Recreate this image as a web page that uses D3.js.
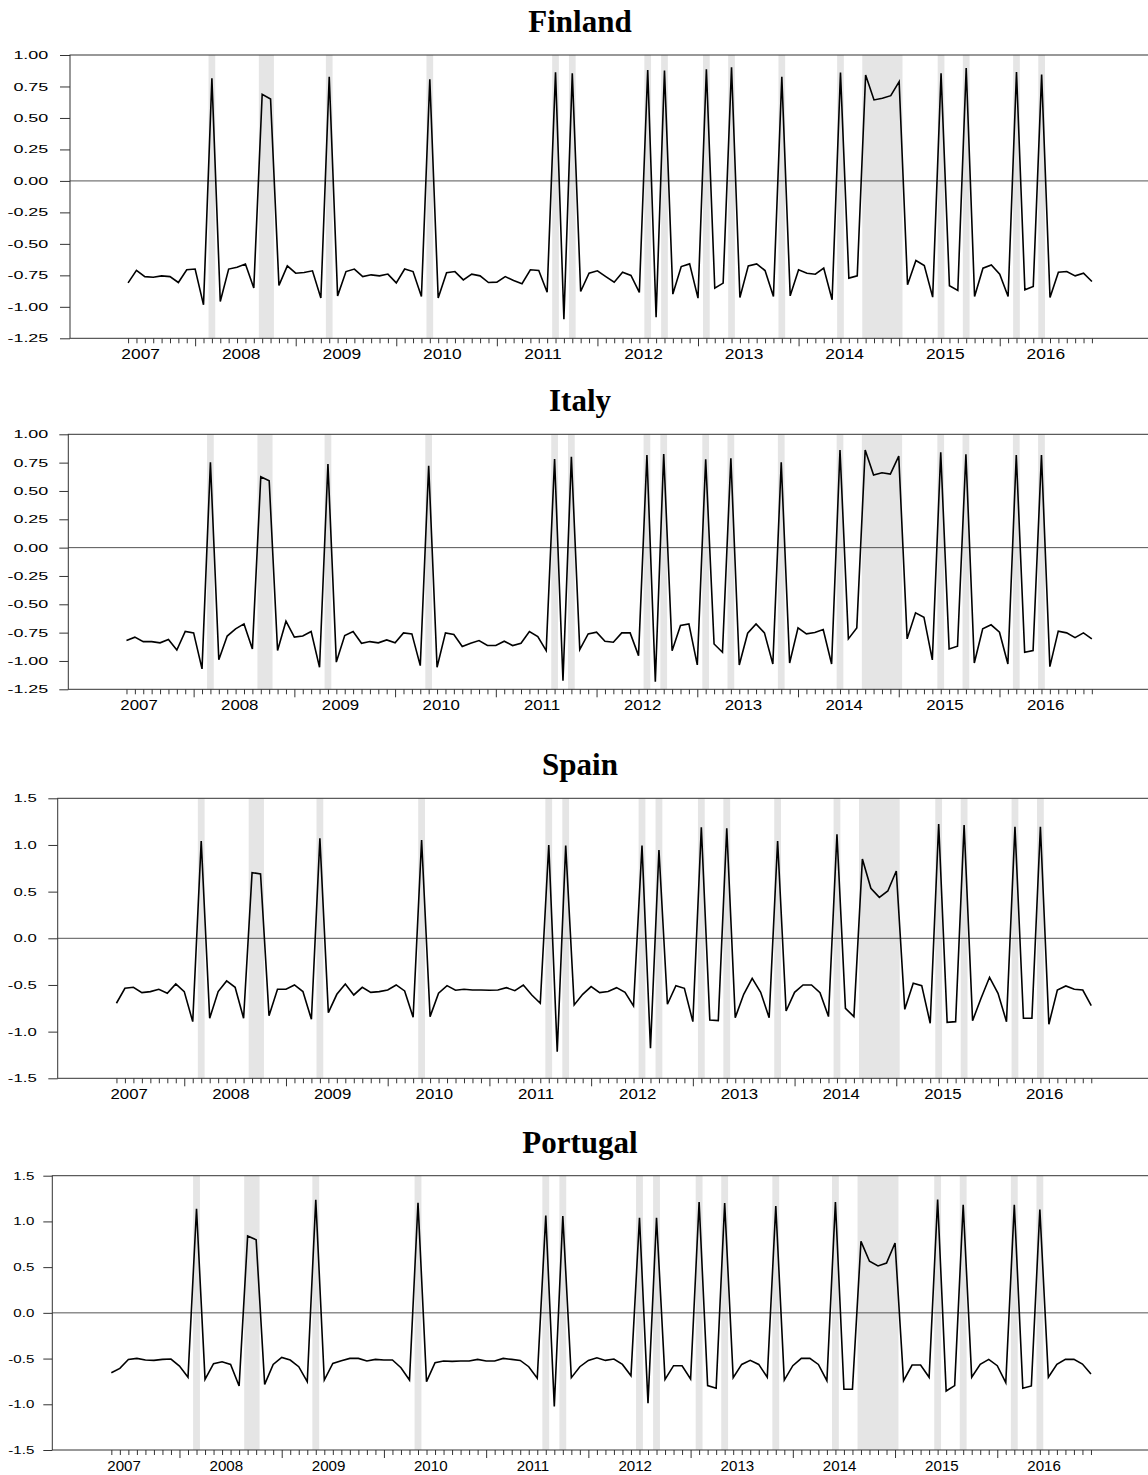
<!DOCTYPE html>
<html>
<head>
<meta charset="utf-8">
<script src="https://cdn.jsdelivr.net/npm/d3@7"></script>
<style>
  body { margin: 0; background: #fff; }
</style>
</head>
<body>
<svg id="chart"></svg>
<script>
// monthly observations, 2007M05 .. 2016M12
var firstYear = 2007, firstMonth = 5;
var yearLabels = [2007, 2008, 2009, 2010, 2011, 2012, 2013, 2014, 2015, 2016];

// shaded months (regime periods), start / end observation
var shadeSpans = [
  ['2008-03', '2008-03'], ['2008-09', '2008-10'], ['2009-05', '2009-05'],
  ['2010-05', '2010-05'], ['2011-08', '2011-08'], ['2011-10', '2011-10'],
  ['2012-07', '2012-07'], ['2012-09', '2012-09'], ['2013-02', '2013-02'],
  ['2013-05', '2013-05'], ['2013-11', '2013-11'], ['2014-06', '2014-06'],
  ['2014-09', '2015-01'], ['2015-06', '2015-06'], ['2015-09', '2015-09'],
  ['2016-03', '2016-03'], ['2016-06', '2016-06']
];

var ticksNarrow = [-1.25, -1.00, -0.75, -0.50, -0.25, 0, 0.25, 0.50, 0.75, 1.00];
var ticksWide = [-1.5, -1.0, -0.5, 0, 0.5, 1.0, 1.5];

var finland = [
  -0.81, -0.71, -0.76, -0.765, -0.754, -0.76, -0.807, -0.706, -0.70, -0.984,
  0.815, -0.958, -0.70, -0.685, -0.66, -0.85, 0.688, 0.65, -0.83, -0.675,
  -0.733, -0.728, -0.714, -0.93, 0.828, -0.913, -0.72, -0.70, -0.76, -0.746,
  -0.754, -0.74, -0.81, -0.70, -0.72, -0.918, 0.807, -0.93, -0.73, -0.72,
  -0.786, -0.741, -0.754, -0.807, -0.804, -0.76, -0.791, -0.817, -0.706, -0.712,
  -0.884, 0.862, -1.098, 0.854, -0.878, -0.733, -0.714, -0.76, -0.804, -0.725,
  -0.751, -0.886, 0.881, -1.082, 0.876, -0.899, -0.68, -0.659, -0.931, 0.886,
  -0.852, -0.812, 0.902, -0.926, -0.675, -0.659, -0.712, -0.918, 0.828, -0.913,
  -0.706, -0.733, -0.741, -0.693, -0.944, 0.86, -0.772, -0.754, 0.841, 0.643,
  0.656, 0.677, 0.788, -0.825, -0.632, -0.672, -0.923, 0.854, -0.833, -0.870,
  0.897, -0.918, -0.693, -0.667, -0.741, -0.918, 0.865, -0.865, -0.839, 0.844,
  -0.926, -0.725, -0.72, -0.754, -0.733, -0.799
];

var italy = [
  -0.82, -0.79, -0.829, -0.829, -0.84, -0.81, -0.903, -0.74, -0.752, -1.07,
  0.752, -0.99, -0.78, -0.717, -0.673, -0.894, 0.625, 0.59, -0.908, -0.649,
  -0.79, -0.78, -0.74, -1.056, 0.737, -1.01, -0.776, -0.74, -0.844, -0.829,
  -0.84, -0.814, -0.84, -0.752, -0.761, -1.041, 0.723, -1.056, -0.752, -0.767,
  -0.873, -0.844, -0.82, -0.864, -0.864, -0.826, -0.864, -0.844, -0.74, -0.785,
  -0.909, 0.782, -1.174, 0.802, -0.90, -0.761, -0.746, -0.826, -0.835, -0.752,
  -0.752, -0.953, 0.817, -1.183, 0.826, -0.909, -0.687, -0.673, -1.035, 0.779,
  -0.85, -0.923, 0.788, -1.035, -0.755, -0.673, -0.752, -1.027, 0.752, -1.018,
  -0.708, -0.761, -0.749, -0.723, -1.027, 0.861, -0.805, -0.708, 0.861, 0.64,
  0.661, 0.649, 0.808, -0.805, -0.575, -0.614, -0.991, 0.841, -0.894, -0.87,
  0.823, -1.018, -0.717, -0.681, -0.746, -1.027, 0.817, -0.923, -0.909, 0.817,
  -1.05, -0.737, -0.752, -0.794, -0.752, -0.805
];

var spain = [
  -0.696, -0.536, -0.525, -0.582, -0.571, -0.546, -0.589, -0.489, -0.571, -0.893,
  1.043, -0.857, -0.571, -0.457, -0.525, -0.857, 0.704, 0.689, -0.829, -0.546,
  -0.546, -0.50, -0.571, -0.868, 1.071, -0.796, -0.60, -0.489, -0.607, -0.525,
  -0.579, -0.571, -0.554, -0.50, -0.564, -0.846, 1.054, -0.839, -0.589, -0.507,
  -0.557, -0.546, -0.554, -0.554, -0.557, -0.554, -0.529, -0.561, -0.50, -0.607,
  -0.696, 1.0, -1.214, 0.993, -0.714, -0.60, -0.518, -0.582, -0.571, -0.529,
  -0.579, -0.725, 0.993, -1.179, 0.946, -0.707, -0.507, -0.536, -0.893, 1.189,
  -0.875, -0.882, 1.179, -0.85, -0.60, -0.429, -0.579, -0.85, 1.043, -0.779,
  -0.579, -0.50, -0.50, -0.582, -0.839, 1.114, -0.75, -0.839, 0.85, 0.536,
  0.439, 0.507, 0.721, -0.761, -0.482, -0.507, -0.911, 1.225, -0.90, -0.893,
  1.214, -0.882, -0.643, -0.418, -0.589, -0.893, 1.196, -0.857, -0.857, 1.196,
  -0.921, -0.554, -0.511, -0.546, -0.554, -0.721
];

var portugal = [
  -0.655, -0.607, -0.509, -0.498, -0.516, -0.52, -0.509, -0.505, -0.582, -0.705,
  1.138, -0.727, -0.556, -0.535, -0.564, -0.80, 0.84, 0.80, -0.782, -0.564,
  -0.487, -0.516, -0.589, -0.753, 1.236, -0.735, -0.553, -0.524, -0.498, -0.498,
  -0.527, -0.509, -0.516, -0.516, -0.60, -0.735, 1.204, -0.753, -0.545, -0.527,
  -0.531, -0.527, -0.527, -0.509, -0.527, -0.527, -0.498, -0.509, -0.52, -0.589,
  -0.716, 1.065, -1.025, 1.058, -0.709, -0.589, -0.52, -0.491, -0.52, -0.505,
  -0.564, -0.687, 1.04, -0.989, 1.04, -0.727, -0.578, -0.578, -0.724, 1.211,
  -0.796, -0.825, 1.20, -0.709, -0.564, -0.52, -0.564, -0.705, 1.167, -0.735,
  -0.578, -0.498, -0.498, -0.564, -0.742, 1.211, -0.836, -0.836, 0.782, 0.564,
  0.513, 0.545, 0.764, -0.742, -0.571, -0.571, -0.705, 1.24, -0.855, -0.796,
  1.182, -0.705, -0.564, -0.509, -0.578, -0.764, 1.182, -0.825, -0.80, 1.131,
  -0.705, -0.564, -0.509, -0.509, -0.56, -0.669
];

// layout of the four stacked panels
var panels = [
  { name: 'Finland',  values: finland,  top: 55,     bottom: 338.3, left: 70,   tick: 10,  labelRight: 48.3,
    yDomain: [-1.25, 1], ticks: ticksNarrow, fmt: '.2f', ySx: 1.63, xSx: 1.24 },
  { name: 'Italy',    values: italy,    top: 434.3,  bottom: 689.3, left: 68.3, tick: 9,   labelRight: 48.3,
    yDomain: [-1.25, 1], ticks: ticksNarrow, fmt: '.2f', ySx: 1.63, xSx: 1.2 },
  { name: 'Spain',    values: spain,    top: 798.3,  bottom: 1078.3, left: 57.7, tick: 9.4, labelRight: 36.7,
    yDomain: [-1.5, 1.5], ticks: ticksWide, fmt: '.1f', ySx: 1.52, xSx: 1.2 },
  { name: 'Portugal', values: portugal, top: 1175.7, bottom: 1450,  left: 52.3, tick: 9,   labelRight: 34.3,
    yDomain: [-1.5, 1.5], ticks: ticksWide, fmt: '.1f', ySx: 1.37, xSx: 1.08 }
];

var plotRight = 1150;
var xDomain = [-2.93, 125.93];   // months counted from Jan 2007

function obsMonth(s) {
  var p = s.split('-');
  return (+p[0] - firstYear) * 12 + (+p[1] - 1);
}
var obsMonths = d3.range(finland.length).map(i => firstMonth - 1 + i);

function stretch(sel, k) {
  sel.each(function() {
    var w = this.getComputedTextLength();
    d3.select(this).attr('textLength', w * k).attr('lengthAdjust', 'spacingAndGlyphs');
  });
}

var svg = d3.select('#chart')
  .attr('width', 1148)
  .attr('height', 1475);

panels.forEach(function(p) {
  var g = svg.append('g');

  var x = d3.scaleLinear().domain(xDomain).range([p.left, plotRight]);
  var y = d3.scaleLinear().domain(p.yDomain).range([p.bottom, p.top]);

  // shaded regime months
  g.selectAll('rect.band')
    .data(shadeSpans)
    .enter()
    .append('rect')
      .attr('class', 'band')
      .attr('x', d => x(obsMonth(d[0]) - 0.4))
      .attr('width', d => x(obsMonth(d[1]) + 0.4) - x(obsMonth(d[0]) - 0.4))
      .attr('y', p.top)
      .attr('height', p.bottom - p.top)
      .attr('fill', '#e5e5e5');

  // zero line
  g.append('line')
    .attr('x1', p.left).attr('x2', plotRight)
    .attr('y1', y(0)).attr('y2', y(0))
    .attr('stroke', '#555')
    .attr('stroke-width', 1);

  // series
  var line = d3.line()
    .x((d, i) => x(obsMonths[i]))
    .y(d => y(d));

  g.append('path')
    .datum(p.values)
    .attr('d', line)
    .attr('fill', 'none')
    .attr('stroke', '#000')
    .attr('stroke-width', 1.6);

  // y axis
  var fmt = d3.format(p.fmt);
  var ya = g.append('g')
    .attr('transform', `translate(${p.left}, 0)`)
    .call(d3.axisLeft(y)
      .tickValues(p.ticks)
      .tickSize(p.tick)
      .tickSizeOuter(0)
      .tickPadding(p.left - p.tick - p.labelRight)
      .tickFormat(d => fmt(d).replace('\u2212', '-')));
  ya.select('.domain').remove();
  ya.selectAll('.tick line').attr('stroke', '#333');
  ya.selectAll('text')
    .attr('font-family', '"Liberation Sans", Arial, sans-serif')
    .attr('font-size', 11)
    .attr('fill', '#000')
    .call(stretch, p.ySx);

  // x axis: a tick per month, longer at January
  var xa = g.append('g')
    .attr('transform', `translate(0, ${p.bottom})`)
    .call(d3.axisBottom(x)
      .tickValues(obsMonths)
      .tickSize(5)
      .tickSizeOuter(0)
      .tickFormat(''));
  xa.select('.domain').remove();
  xa.selectAll('.tick line').attr('stroke', '#333');
  xa.selectAll('.tick line').filter(d => d % 12 === 0).attr('y2', 8);

  g.selectAll('text.year')
    .data(yearLabels)
    .enter()
    .append('text')
      .attr('class', 'year')
      .attr('x', d => x((d - firstYear) * 12 + 5.5))
      .attr('y', p.bottom + 20.5)
      .attr('text-anchor', 'middle')
      .attr('font-family', '"Liberation Sans", Arial, sans-serif')
      .attr('font-size', 14)
      .text(d => d)
      .call(stretch, p.xSx);

  // frame
  g.append('rect')
    .attr('x', p.left)
    .attr('y', p.top)
    .attr('width', plotRight - p.left)
    .attr('height', p.bottom - p.top)
    .attr('fill', 'none')
    .attr('stroke', '#333')
    .attr('stroke-width', 1);

  // title
  g.append('text')
    .attr('x', 580)
    .attr('y', p.top - 23)
    .attr('text-anchor', 'middle')
    .attr('font-family', '"Liberation Serif", "Times New Roman", serif')
    .attr('font-weight', 'bold')
    .attr('font-size', 31)
    .text(p.name);
});
</script>
</body>
</html>
